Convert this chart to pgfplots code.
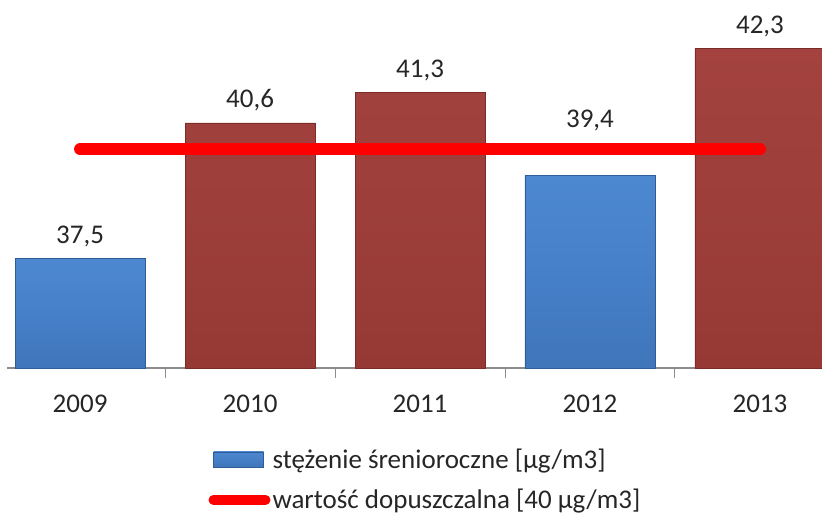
\documentclass[border=0pt]{standalone}
\usepackage{fontspec}
\setmainfont{Carlito}
\usepackage{pgfplots}
\pgfplotsset{compat=1.18}
\definecolor{barblue}{HTML}{4680C8}
\definecolor{barbluetop}{HTML}{4C88D0}
\definecolor{barbluebot}{HTML}{4076BA}
\definecolor{barblueedge}{HTML}{2F5C98}
\definecolor{barred}{HTML}{9D3E3A}
\definecolor{barredtop}{HTML}{A3423E}
\definecolor{barredbot}{HTML}{963935}
\definecolor{barrededge}{HTML}{7A2C29}
\definecolor{limred}{HTML}{FF0000}
\begin{document}
\begin{tikzpicture}
\begin{axis}[name=ax, scale only axis, width=815pt, height=368pt,
  xmin=-0.43, xmax=4.365, ymin=35, ymax=43.41,
  axis x line*=bottom, axis y line=none,
  x axis line style={draw=black!45, line width=1.5pt, -},
  xtick={0,1,2,3,4}, xticklabels={2009,2010,2011,2012,2013},
  major tick length=0pt,
  extra x ticks={0.5,1.5,2.5,3.5}, extra x tick labels={},
  extra x tick style={major tick length=10pt, tick style={draw=black!45, line width=1pt}, tick align=outside},
  x tick label style={font=\fontsize{27}{32}\selectfont, text=black!85, yshift=-23pt},
  ytick=\empty,
  ybar, bar width=0.765, bar shift=0pt,
  nodes near coords,
  nodes near coords style={font=\fontsize{27}{32}\selectfont, text=black!85, yshift=8pt,
    /pgf/number format/fixed, /pgf/number format/fixed zerofill,
    /pgf/number format/precision=1, /pgf/number format/use comma,
    /pgf/number format/assume math mode=true},
  legend style={draw=none, fill=none, at={(0.247,-0.215)}, anchor=north west,
    font=\fontsize{27}{32}\selectfont, text=black!85, row sep=15pt, inner sep=0pt},
  legend cell align=left,
  clip=false]
\addplot[draw=barblueedge, top color=barbluetop, bottom color=barbluebot, middle color=barblue,
  legend image code/.code={\shade[top color=barbluetop, bottom color=barbluebot, draw=barblueedge] (0pt,-7pt) rectangle (50pt,8pt);}]
  coordinates {(0,37.5)};
\addlegendentry{stężenie śrenioroczne [µg/m3]}
\addplot[draw=barblueedge, top color=barbluetop, bottom color=barbluebot, middle color=barblue, forget plot,
  every node near coord/.append style={yshift=33pt}]
  coordinates {(3,39.4)};
\addplot[draw=barrededge, top color=barredtop, bottom color=barredbot, middle color=barred, forget plot]
  coordinates {(1,40.6) (2,41.3) (4,42.3)};
\addplot[sharp plot, no marks, nodes near coords={}, draw=limred, line width=12pt, line cap=round,
  legend image code/.code={\draw[limred, line width=10pt, line cap=round] (0pt,0pt) -- (52pt,0pt);}]
  coordinates {(0,40) (4,40)};
\addlegendentry{wartość dopuszczalna [40 µg/m3]}
\end{axis}
\pgfresetboundingbox
\path (ax.south west) ++(-7pt,-150pt) rectangle (ax.north east);
\end{tikzpicture}
\end{document}
